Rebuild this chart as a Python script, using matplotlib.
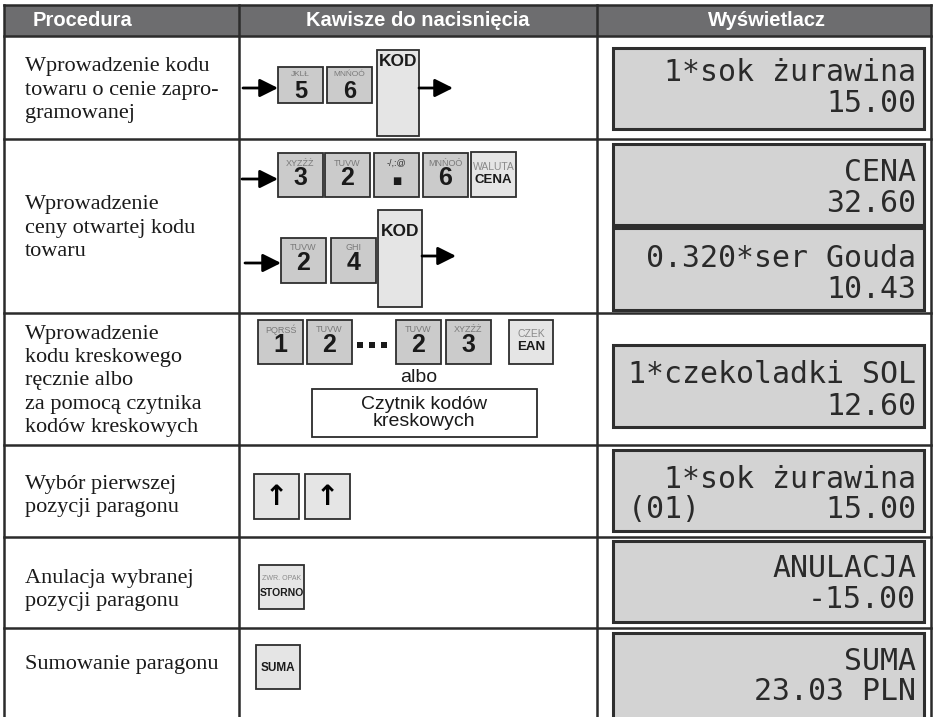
import matplotlib
matplotlib.use("Agg")
import matplotlib.pyplot as plt
from matplotlib.patches import Rectangle

# ---------------- data ----------------
header_labels = ["Procedura", "Kawisze do nacisnięcia", "Wyświetlacz"]

procedures = [
    "Wprowadzenie kodu\ntowaru o cenie zapro-\ngramowanej",
    "Wprowadzenie\nceny otwartej kodu\ntowaru",
    "Wprowadzenie\nkodu kreskowego\nręcznie albo\nza pomocą czytnika\nkodów kreskowych",
    "Wybór pierwszej\npozycji paragonu",
    "Anulacja wybranej\npozycji paragonu",
    "Sumowanie paragonu",
]

row1_keys = [("JKLŁ", "5"), ("MNŃOÓ", "6")]
row2a_keys = [("XYZŹŻ", "3"), ("TUVW", "2"), ("-/,:@", "."), ("MNŃOÓ", "6"), ("WALUTA", "CENA")]
row2b_keys = [("TUVW", "2"), ("GHI", "4")]
row3_keys = [("PQRSŚ", "1"), ("TUVW", "2"), ("TUVW", "2"), ("XYZŹŻ", "3"), ("CZEK", "EAN")]
code_key = "KOD"
or_word = "albo"
scanner_label = "Czytnik kodów\nkreskowych"
row4_keys = ["↑", "↑"]
row5_key = ("ZWR. OPAK", "STORNO")
row6_key = "SUMA"

displays = [
    [("1*sok żurawina", "15.00")],
    [("CENA", "32.60"), ("0.320*ser Gouda", "10.43")],
    [("1*czekoladki SOL", "12.60")],
    [("1*sok żurawina", "(01)       15.00")],
    [("ANULACJA", "-15.00")],
    [("SUMA", "23.03 PLN")],
]

# ---------------- figure ----------------
W, H = 936, 717
fig = plt.figure(figsize=(W / 100, H / 100), dpi=100)
ax = fig.add_axes([0, 0, 1, 1])
ax.set_xlim(0, W)
ax.set_ylim(H, 0)
ax.axis("off")

LINE = "#2b2b2b"
col_x = [4, 239, 597, 931]
row_y = [5, 36, 139, 313, 445, 537, 628]
SANS = "Liberation Sans"

# header
ax.add_patch(Rectangle((col_x[0], row_y[0]), col_x[-1] - col_x[0], row_y[1] - row_y[0],
                       facecolor="#6d6d6f", edgecolor="none", zorder=1))
ax.text(33, 21, header_labels[0], color="white", fontsize=14.5, fontweight="bold",
        family=SANS, ha="left", va="center", zorder=5)
ax.text((col_x[1] + col_x[2]) / 2, 21, header_labels[1], color="white", fontsize=14.5,
        fontweight="bold", family=SANS, ha="center", va="center", zorder=5)
ax.text((col_x[2] + col_x[3]) / 2 + 3, 21, header_labels[2], color="white", fontsize=14.5,
        fontweight="bold", family=SANS, ha="center", va="center", zorder=5)

# grid lines
for y in row_y:
    ax.plot([col_x[0], col_x[-1]], [y, y], color=LINE, lw=1.8, zorder=3, solid_capstyle="projecting")
for x in col_x:
    ax.plot([x, x], [row_y[0], H + 5], color=LINE, lw=1.8, zorder=3)

# procedure texts
text_y = [90, 228, 381, 496, 590, 664]
for t, y in zip(procedures, text_y):
    ax.text(25, y, t, family="Liberation Serif", fontsize=16, color="#1a1a1a",
            ha="left", va="center", linespacing=1.3, zorder=5)

# ---------------- keys ----------------
DARK_KEY = "#cbcbcb"
LIGHT_KEY = "#e5e5e5"


def draw_key(x0, y0, w, h, small, big, fill=DARK_KEY, big_size=18, small_size=6.5,
             small_dy=10, big_dy=25, small_color="#7a7a7a"):
    ax.add_patch(Rectangle((x0, y0), w, h, facecolor=fill, edgecolor="#2e2e2e", lw=1.3, zorder=4))
    if small:
        ax.text(x0 + w / 2, y0 + small_dy, small, fontsize=small_size, color=small_color,
                family=SANS, ha="center", va="center", zorder=5)
    if big:
        ax.text(x0 + w / 2, y0 + big_dy, big, fontsize=big_size, fontweight="bold",
                color="#1a1a1a", family=SANS, ha="center", va="center", zorder=5)


def arrow(x0, x1, y):
    ax.annotate("", xy=(x1, y), xytext=(x0, y),
                arrowprops=dict(arrowstyle="-|>,head_length=1.1,head_width=0.55",
                                color="black", lw=2, shrinkA=0, shrinkB=0), zorder=5)


# row 1
arrow(243, 278, 88)
for (s, b), x in zip(row1_keys, [278, 327]):
    draw_key(x, 67, 45, 36, s, b, small_size=6, small_dy=7, big_dy=25, big_size=17)
draw_key(377, 50, 42, 86, None, None, fill=LIGHT_KEY)
ax.text(398, 61, code_key, fontsize=12.5, fontweight="bold", family=SANS, ha="center",
        va="center", color="#1a1a1a", zorder=5)
arrow(419, 453, 88)

# row 2 (a)
arrow(242, 278, 179)
xs2a = [278, 325, 374, 423, 471]
for i, ((s, b), x) in enumerate(zip(row2a_keys, xs2a)):
    if i == 4:
        draw_key(x, 152, 45, 45, s, b, fill=LIGHT_KEY, big_size=9.5, small_size=7.5,
                 small_dy=15, big_dy=28, small_color="#8a8a8a")
    elif b == ".":
        draw_key(x, 153, 45, 44, s, None, small_color="#333333")
        # the key's dot is printed as a small square
        ax.text(x + 22.5, 153 + 28, "■" if b == "." else b, fontsize=7, family="DejaVu Sans",
                ha="center", va="center", color="#1a1a1a", zorder=5)
    else:
        draw_key(x, 153, 45, 44, s, b)

# row 2 (b)
arrow(245, 281, 263)
for (s, b), x in zip(row2b_keys, [281, 331]):
    draw_key(x, 238, 45, 45, s, b)
draw_key(378, 210, 44, 97, None, None, fill=LIGHT_KEY)
ax.text(400, 231, code_key, fontsize=12.5, fontweight="bold", family=SANS, ha="center",
        va="center", color="#1a1a1a", zorder=5)
arrow(422, 456, 256)

# row 3
xs3 = [258, 307, 396, 446, 509]
for i, ((s, b), x) in enumerate(zip(row3_keys, xs3)):
    if i == 4:
        draw_key(x, 320, 44, 44, s, b, fill=LIGHT_KEY, big_size=9.5, small_size=7.5,
                 small_dy=14, big_dy=27, small_color="#8a8a8a")
    else:
        draw_key(x, 320, 45, 44, s, b)
for dx in [357, 369, 381]:
    ax.add_patch(Rectangle((dx, 342), 6, 6, facecolor="#1a1a1a", edgecolor="none", zorder=5))
ax.text(419, 377, or_word, fontsize=14, family=SANS, ha="center", va="center",
        color="#1a1a1a", zorder=5)
ax.add_patch(Rectangle((312, 389), 225, 48, facecolor="white", edgecolor="#2b2b2b", lw=1.3, zorder=4))
ax.text(424, 413, scanner_label, fontsize=14, family=SANS, ha="center", va="center",
        color="#1a1a1a", linespacing=1.0, zorder=5)

# row 4
for a, x in zip(row4_keys, [254, 305]):
    ax.add_patch(Rectangle((x, 474), 45, 45, facecolor=LIGHT_KEY, edgecolor="#2e2e2e", lw=1.3, zorder=4))
    ax.text(x + 22.5, 497, a, fontsize=20, fontweight="bold", family="DejaVu Sans",
            ha="center", va="center", color="black", zorder=5)

# row 5
draw_key(259, 565, 45, 44, row5_key[0], row5_key[1], fill=LIGHT_KEY, big_size=7.5,
         small_size=5, small_dy=13, big_dy=28, small_color="#8a8a8a")
# row 6
draw_key(256, 645, 44, 44, None, row6_key, fill=LIGHT_KEY, big_size=8.5, big_dy=23)

# ---------------- displays ----------------
box_tops = [[48], [144, 228], [345], [450], [541], [633]]
box_h = [[81], [81, 82], [82], [81], [81], [100]]
base_off = [[(33, 64)], [(37, 68), (39, 70)], [(38, 70)], [(38, 68)], [(36, 67)], [(37, 67)]]
MONO = "DejaVu Sans Mono"
for disp, tops, hs, offs in zip(displays, box_tops, box_h, base_off):
    for (l1, l2), top, h, (o1, o2) in zip(disp, tops, hs, offs):
        ax.add_patch(Rectangle((613, top), 311, h, facecolor="#d3d3d3", edgecolor="#2e2e2e",
                               lw=2.2, zorder=4))
        ax.text(916, top + o1, l1, family=MONO, fontsize=21.5, color="#2a2a2a",
                ha="right", va="baseline", zorder=5)
        ax.text(916, top + o2, l2, family=MONO, fontsize=21.5, color="#2a2a2a",
                ha="right", va="baseline", zorder=5)

fig.savefig("out.png", dpi=100)
